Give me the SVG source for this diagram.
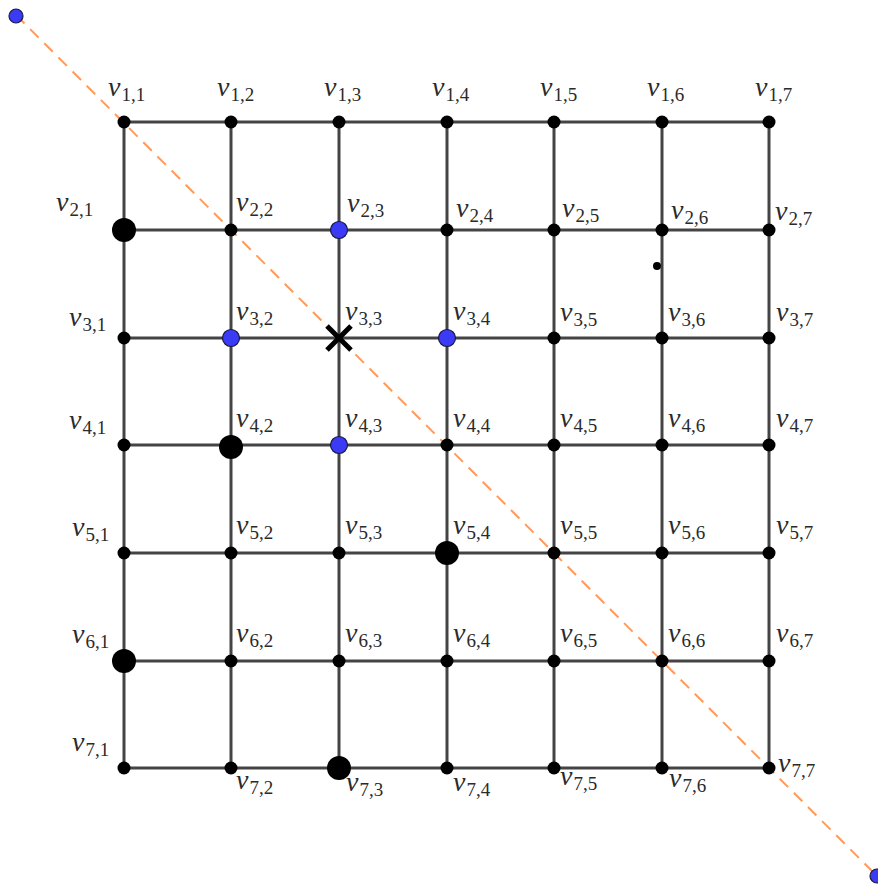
<svg xmlns="http://www.w3.org/2000/svg" width="878" height="885" viewBox="0 0 878 885">
<style>
.g{stroke:#444;stroke-width:3;fill:none}
.d{stroke:#ff9a5c;stroke-width:2;stroke-dasharray:12 8;fill:none}
.s{fill:#000}
.b{fill:#3b3bf5;stroke:#1a1a40;stroke-width:1.2}
text{font-family:"Liberation Serif",serif;fill:#2a2a2a}
.v{font-style:italic;font-size:28px}
.i{font-size:19px}
</style>
<g id="connectors">
<path class="g" d="M124,122H769M124,230H769M124,338H769M124,445H769M124,553H769M124,661H769M124,768H769M124,122V768M231,122V768M339,122V768M447,122V768M554,122V768M662,122V768M769,122V768"/>
<line class="d" x1="16" y1="15" x2="877" y2="876"/>
</g>
<g id="p-start"><circle class="b" cx="16" cy="16" r="7"/></g>
<g id="p-end"><circle class="b" cx="877" cy="876" r="7"/></g>
<g id="dot"><circle class="s" cx="657" cy="266" r="4"/></g>
<g id="nodes">
<g id="n11"><circle class="s" cx="124" cy="122" r="6.5"/><text x="108" y="96"><tspan class="v">v</tspan><tspan class="i" dx="1" dy="5">1,1</tspan></text></g>
<g id="n12"><circle class="s" cx="231" cy="122" r="6.5"/><text x="217" y="96"><tspan class="v">v</tspan><tspan class="i" dx="1" dy="5">1,2</tspan></text></g>
<g id="n13"><circle class="s" cx="339" cy="122" r="6.5"/><text x="324" y="96"><tspan class="v">v</tspan><tspan class="i" dx="1" dy="5">1,3</tspan></text></g>
<g id="n14"><circle class="s" cx="447" cy="122" r="6.5"/><text x="432" y="96"><tspan class="v">v</tspan><tspan class="i" dx="1" dy="5">1,4</tspan></text></g>
<g id="n15"><circle class="s" cx="554" cy="122" r="6.5"/><text x="540" y="96"><tspan class="v">v</tspan><tspan class="i" dx="1" dy="5">1,5</tspan></text></g>
<g id="n16"><circle class="s" cx="662" cy="122" r="6.5"/><text x="647" y="96"><tspan class="v">v</tspan><tspan class="i" dx="1" dy="5">1,6</tspan></text></g>
<g id="n17"><circle class="s" cx="769" cy="122" r="6.5"/><text x="755" y="96"><tspan class="v">v</tspan><tspan class="i" dx="1" dy="5">1,7</tspan></text></g>

<g id="n21"><circle class="s" cx="124" cy="230" r="12"/><text x="56" y="211"><tspan class="v">v</tspan><tspan class="i" dx="1" dy="5">2,1</tspan></text></g>
<g id="n22"><circle class="s" cx="231" cy="230" r="6.5"/><text x="236" y="211"><tspan class="v">v</tspan><tspan class="i" dx="1" dy="5">2,2</tspan></text></g>
<g id="n23"><circle class="b" cx="339" cy="230" r="8.5"/><text x="347" y="212"><tspan class="v">v</tspan><tspan class="i" dx="1" dy="5">2,3</tspan></text></g>
<g id="n24"><circle class="s" cx="447" cy="230" r="6.5"/><text x="456" y="217"><tspan class="v">v</tspan><tspan class="i" dx="1" dy="5">2,4</tspan></text></g>
<g id="n25"><circle class="s" cx="554" cy="230" r="6.5"/><text x="562" y="217"><tspan class="v">v</tspan><tspan class="i" dx="1" dy="5">2,5</tspan></text></g>
<g id="n26"><circle class="s" cx="662" cy="230" r="6.5"/><text x="671" y="219"><tspan class="v">v</tspan><tspan class="i" dx="1" dy="5">2,6</tspan></text></g>
<g id="n27"><circle class="s" cx="769" cy="230" r="6.5"/><text x="775" y="220"><tspan class="v">v</tspan><tspan class="i" dx="1" dy="5">2,7</tspan></text></g>

<g id="n31"><circle class="s" cx="124" cy="338" r="6.5"/><text x="69" y="326"><tspan class="v">v</tspan><tspan class="i" dx="1" dy="5">3,1</tspan></text></g>
<g id="n32"><circle class="b" cx="231" cy="338" r="8.5"/><text x="236" y="320"><tspan class="v">v</tspan><tspan class="i" dx="1" dy="5">3,2</tspan></text></g>
<g id="n33"><path d="M327,326L351,350M351,326L327,350" stroke="#000" stroke-width="5"/><text x="345" y="320"><tspan class="v">v</tspan><tspan class="i" dx="1" dy="5">3,3</tspan></text></g>
<g id="n34"><circle class="b" cx="447" cy="338" r="8.5"/><text x="453" y="320"><tspan class="v">v</tspan><tspan class="i" dx="1" dy="5">3,4</tspan></text></g>
<g id="n35"><circle class="s" cx="554" cy="338" r="6.5"/><text x="560" y="321"><tspan class="v">v</tspan><tspan class="i" dx="1" dy="5">3,5</tspan></text></g>
<g id="n36"><circle class="s" cx="662" cy="338" r="6.5"/><text x="668" y="321"><tspan class="v">v</tspan><tspan class="i" dx="1" dy="5">3,6</tspan></text></g>
<g id="n37"><circle class="s" cx="769" cy="338" r="6.5"/><text x="776" y="321"><tspan class="v">v</tspan><tspan class="i" dx="1" dy="5">3,7</tspan></text></g>

<g id="n41"><circle class="s" cx="124" cy="445" r="6.5"/><text x="69" y="429"><tspan class="v">v</tspan><tspan class="i" dx="1" dy="5">4,1</tspan></text></g>
<g id="n42"><circle class="s" cx="231" cy="447" r="12"/><text x="236" y="427"><tspan class="v">v</tspan><tspan class="i" dx="1" dy="5">4,2</tspan></text></g>
<g id="n43"><circle class="b" cx="339" cy="445" r="8.5"/><text x="345" y="427"><tspan class="v">v</tspan><tspan class="i" dx="1" dy="5">4,3</tspan></text></g>
<g id="n44"><circle class="s" cx="447" cy="445" r="6.5"/><text x="453" y="427"><tspan class="v">v</tspan><tspan class="i" dx="1" dy="5">4,4</tspan></text></g>
<g id="n45"><circle class="s" cx="554" cy="445" r="6.5"/><text x="560" y="427"><tspan class="v">v</tspan><tspan class="i" dx="1" dy="5">4,5</tspan></text></g>
<g id="n46"><circle class="s" cx="662" cy="445" r="6.5"/><text x="668" y="427"><tspan class="v">v</tspan><tspan class="i" dx="1" dy="5">4,6</tspan></text></g>
<g id="n47"><circle class="s" cx="769" cy="445" r="6.5"/><text x="776" y="427"><tspan class="v">v</tspan><tspan class="i" dx="1" dy="5">4,7</tspan></text></g>

<g id="n51"><circle class="s" cx="124" cy="553" r="6.5"/><text x="72" y="536"><tspan class="v">v</tspan><tspan class="i" dx="1" dy="5">5,1</tspan></text></g>
<g id="n52"><circle class="s" cx="231" cy="553" r="6.5"/><text x="236" y="534"><tspan class="v">v</tspan><tspan class="i" dx="1" dy="5">5,2</tspan></text></g>
<g id="n53"><circle class="s" cx="339" cy="553" r="6.5"/><text x="345" y="534"><tspan class="v">v</tspan><tspan class="i" dx="1" dy="5">5,3</tspan></text></g>
<g id="n54"><circle class="s" cx="447" cy="553" r="12"/><text x="453" y="534"><tspan class="v">v</tspan><tspan class="i" dx="1" dy="5">5,4</tspan></text></g>
<g id="n55"><circle class="s" cx="554" cy="553" r="6.5"/><text x="560" y="534"><tspan class="v">v</tspan><tspan class="i" dx="1" dy="5">5,5</tspan></text></g>
<g id="n56"><circle class="s" cx="662" cy="553" r="6.5"/><text x="668" y="534"><tspan class="v">v</tspan><tspan class="i" dx="1" dy="5">5,6</tspan></text></g>
<g id="n57"><circle class="s" cx="769" cy="553" r="6.5"/><text x="776" y="534"><tspan class="v">v</tspan><tspan class="i" dx="1" dy="5">5,7</tspan></text></g>

<g id="n61"><circle class="s" cx="124" cy="661" r="12"/><text x="72" y="643"><tspan class="v">v</tspan><tspan class="i" dx="1" dy="5">6,1</tspan></text></g>
<g id="n62"><circle class="s" cx="231" cy="661" r="6.5"/><text x="236" y="642"><tspan class="v">v</tspan><tspan class="i" dx="1" dy="5">6,2</tspan></text></g>
<g id="n63"><circle class="s" cx="339" cy="661" r="6.5"/><text x="345" y="642"><tspan class="v">v</tspan><tspan class="i" dx="1" dy="5">6,3</tspan></text></g>
<g id="n64"><circle class="s" cx="447" cy="661" r="6.5"/><text x="453" y="642"><tspan class="v">v</tspan><tspan class="i" dx="1" dy="5">6,4</tspan></text></g>
<g id="n65"><circle class="s" cx="554" cy="661" r="6.5"/><text x="560" y="642"><tspan class="v">v</tspan><tspan class="i" dx="1" dy="5">6,5</tspan></text></g>
<g id="n66"><circle class="s" cx="662" cy="661" r="6.5"/><text x="668" y="642"><tspan class="v">v</tspan><tspan class="i" dx="1" dy="5">6,6</tspan></text></g>
<g id="n67"><circle class="s" cx="769" cy="661" r="6.5"/><text x="776" y="642"><tspan class="v">v</tspan><tspan class="i" dx="1" dy="5">6,7</tspan></text></g>

<g id="n71"><circle class="s" cx="124" cy="768" r="6.5"/><text x="72" y="751"><tspan class="v">v</tspan><tspan class="i" dx="1" dy="5">7,1</tspan></text></g>
<g id="n72"><circle class="s" cx="231" cy="768" r="6.5"/><text x="236" y="789"><tspan class="v">v</tspan><tspan class="i" dx="1" dy="5">7,2</tspan></text></g>
<g id="n73"><circle class="s" cx="339" cy="768" r="12"/><text x="346" y="791"><tspan class="v">v</tspan><tspan class="i" dx="1" dy="5">7,3</tspan></text></g>
<g id="n74"><circle class="s" cx="447" cy="768" r="6.5"/><text x="453" y="791"><tspan class="v">v</tspan><tspan class="i" dx="1" dy="5">7,4</tspan></text></g>
<g id="n75"><circle class="s" cx="554" cy="768" r="6.5"/><text x="560" y="785"><tspan class="v">v</tspan><tspan class="i" dx="1" dy="5">7,5</tspan></text></g>
<g id="n76"><circle class="s" cx="662" cy="768" r="6.5"/><text x="669" y="787"><tspan class="v">v</tspan><tspan class="i" dx="1" dy="5">7,6</tspan></text></g>
<g id="n77"><circle class="s" cx="769" cy="768" r="6.5"/><text x="778" y="772"><tspan class="v">v</tspan><tspan class="i" dx="1" dy="5">7,7</tspan></text></g>
</g>
</svg>
